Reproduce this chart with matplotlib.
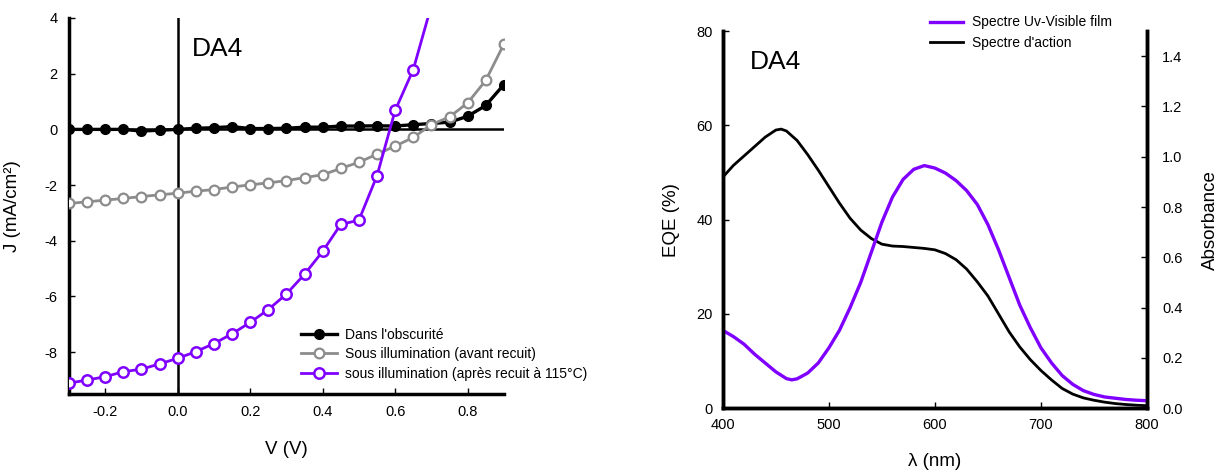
import matplotlib
matplotlib.use("Agg")
import matplotlib.pyplot as plt

plt.rcParams['font.family'] = ['Liberation Sans', 'DejaVu Sans']
plt.rcParams['axes.unicode_minus'] = False

# ---- J-V data ----
voltage = [-0.30, -0.25, -0.20, -0.15, -0.10, -0.05, 0.00, 0.05, 0.10, 0.15, 0.20, 0.25,
           0.30, 0.35, 0.40, 0.45, 0.50, 0.55, 0.60, 0.65, 0.70, 0.75, 0.80, 0.85, 0.90]
j_dark = [0.00, 0.00, 0.00, 0.00, -0.06, -0.03, 0.00, 0.04, 0.06, 0.10, 0.03, 0.03,
          0.04, 0.08, 0.08, 0.12, 0.12, 0.13, 0.12, 0.17, 0.21, 0.26, 0.47, 0.86, 1.61]
j_before = [-2.66, -2.60, -2.54, -2.48, -2.41, -2.35, -2.29, -2.22, -2.16, -2.07, -1.99, -1.92,
            -1.84, -1.73, -1.63, -1.40, -1.18, -0.89, -0.60, -0.29, 0.17, 0.45, 0.95, 1.76, 3.06]
voltage_after = [-0.30, -0.25, -0.20, -0.15, -0.10, -0.05, 0.00, 0.05, 0.10, 0.15, 0.20, 0.25,
                 0.30, 0.35, 0.40, 0.45, 0.50, 0.55, 0.60, 0.65, 0.70]
j_after = [-9.11, -9.00, -8.88, -8.70, -8.61, -8.42, -8.22, -7.98, -7.69, -7.34, -6.93, -6.47,
           -5.91, -5.20, -4.38, -3.41, -3.26, -1.66, 0.68, 2.15, 4.45]

jv_labels = ["Dans l'obscurité", "Sous illumination (avant recuit)",
             "sous illumination (après recuit à 115°C)"]
xticks_jv = [-0.2, 0.0, 0.2, 0.4, 0.6, 0.8]
yticks_jv = [-8, -6, -4, -2, 0, 2, 4]

# ---- spectra data ----
wl_abs = [400, 410, 420, 430, 440, 450, 460, 465, 470, 480, 490, 500, 510, 520, 530, 540,
          550, 560, 570, 580, 590, 600, 610, 620, 630, 640, 650, 660, 670, 680, 690, 700,
          710, 720, 730, 740, 750, 760, 770, 780, 790, 800]
absorbance = [0.310, 0.285, 0.255, 0.215, 0.180, 0.145, 0.118, 0.113, 0.117, 0.140, 0.180,
              0.240, 0.310, 0.400, 0.500, 0.620, 0.740, 0.840, 0.910, 0.950, 0.965, 0.955,
              0.935, 0.905, 0.865, 0.810, 0.730, 0.630, 0.520, 0.410, 0.320, 0.240, 0.180,
              0.130, 0.095, 0.070, 0.055, 0.045, 0.040, 0.035, 0.032, 0.030]
wl_eqe = [400, 410, 420, 430, 440, 450, 455, 460, 470, 480, 490, 500, 510, 520, 530, 540,
          550, 560, 570, 580, 590, 600, 610, 620, 630, 640, 650, 660, 670, 680, 690, 700,
          710, 720, 730, 740, 750, 760, 770, 780, 790, 800]
eqe = [49.0, 51.5, 53.5, 55.5, 57.5, 59.0, 59.2, 58.8, 56.8, 53.8, 50.5, 47.0, 43.5, 40.3,
       37.8, 36.0, 34.8, 34.4, 34.3, 34.1, 33.9, 33.6, 32.8, 31.5, 29.5, 26.8, 23.8, 20.0,
       16.2, 13.0, 10.3, 8.0, 6.0, 4.2, 3.0, 2.2, 1.7, 1.3, 1.0, 0.8, 0.65, 0.55]
spec_labels = ["Spectre Uv-Visible film", "Spectre d'action"]

PURPLE = '#7F00FF'
GRAY = '#8C8C8C'

fig = plt.figure(figsize=(12.23, 4.72), dpi=100)

# ================= Left: J-V =================
ax1 = fig.add_axes([0.0564, 0.1653, 0.3556, 0.7966])
ax1.axhline(0, color='black', lw=1.8, zorder=1)
ax1.axvline(0, color='black', lw=1.8, zorder=1)
ax1.plot(voltage, j_dark, '-o', color='black', lw=2.4, ms=7, mfc='black', mec='black',
         label=jv_labels[0], zorder=3)
ax1.plot(voltage, j_before, '-o', color=GRAY, lw=2.0, ms=7, mfc='white', mec=GRAY, mew=1.6,
         label=jv_labels[1], zorder=4)
ax1.plot(voltage_after, j_after, '-o', color=PURPLE, lw=2.0, ms=7.5, mfc='white', mec=PURPLE,
         mew=1.8, label=jv_labels[2], zorder=5)
ax1.set_xlim(-0.3, 0.9)
ax1.set_ylim(-9.5, 4)
ax1.set_xticks(xticks_jv)
ax1.set_xticklabels([f"{t:.1f}" for t in xticks_jv])
ax1.set_yticks(yticks_jv)
ax1.set_yticklabels([str(t) for t in yticks_jv])
for s in ['top', 'right']:
    ax1.spines[s].set_visible(False)
for s in ['left', 'bottom']:
    ax1.spines[s].set_linewidth(2.5)
ax1.tick_params(direction='in', length=4, width=1, labelsize=10.5, pad=8)
ax1.set_xlabel('V (V)', fontsize=13.5, labelpad=16)
ax1.set_ylabel('J (mA/cm²)', fontsize=13.5, labelpad=17)
ax1.text(0.04, 2.88, 'DA4', fontsize=19, ha='left', va='center')
ax1.legend(loc='center left', bbox_to_anchor=(0.533, 0.106), frameon=False, fontsize=10,
           borderpad=0, borderaxespad=0, handlelength=2.6, handletextpad=0.6,
           labelspacing=0.4)

# ================= Right: spectra =================
ax2 = fig.add_axes([0.591, 0.135, 0.3469, 0.7993])
ax3 = ax2.twinx()
l_eqe, = ax2.plot(wl_eqe, eqe, color='black', lw=2.0, label=spec_labels[1])
l_abs, = ax3.plot(wl_abs, absorbance, color=PURPLE, lw=2.4, label=spec_labels[0])
ax2.set_xlim(400, 800)
ax2.set_ylim(0, 80)
ax3.set_ylim(0, 1.5)
ax2.set_xticks([400, 500, 600, 700, 800])
ax2.set_yticks([0, 20, 40, 60, 80])
ax3.set_yticks([0.0, 0.2, 0.4, 0.6, 0.8, 1.0, 1.2, 1.4])
ax3.set_yticklabels([f"{t:.1f}" for t in [0.0, 0.2, 0.4, 0.6, 0.8, 1.0, 1.2, 1.4]])
for a in (ax2, ax3):
    a.spines['top'].set_visible(False)
    for s in ['left', 'right', 'bottom']:
        a.spines[s].set_linewidth(2.5)
ax2.tick_params(direction='in', length=4, width=1, labelsize=10.5, pad=7)
ax3.tick_params(direction='in', length=4, width=1, labelsize=10.5, pad=11)
ax2.set_xlabel('λ (nm)', fontsize=13.5, labelpad=15)
ax2.set_ylabel('EQE (%)', fontsize=13.5, labelpad=12)
ax3.set_ylabel('Absorbance', fontsize=13.5, labelpad=14)
ax2.text(425.7, 73.4, 'DA4', fontsize=19, ha='left', va='center')
ax2.legend(handles=[l_abs, l_eqe], loc='center left', bbox_to_anchor=(0.4886, 0.996),
           frameon=False, fontsize=10, borderpad=0, borderaxespad=0, handlelength=2.4,
           handletextpad=0.6, labelspacing=0.45)

fig.savefig('out.png', dpi=100)
